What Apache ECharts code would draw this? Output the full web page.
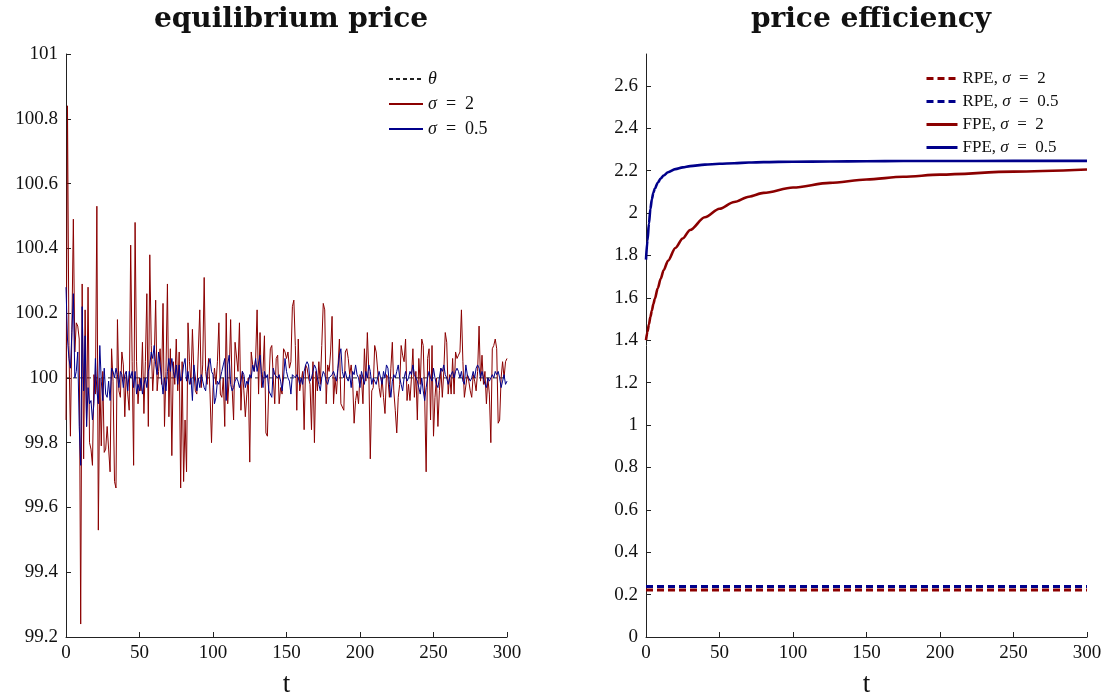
<!DOCTYPE html>
<html>
<head>
<meta charset="utf-8">
<script src="https://cdn.jsdelivr.net/npm/echarts@6/dist/echarts.min.js"></script>
<style>
  html, body { margin: 0; padding: 0; background: #fff; }
  #chart { width: 1112px; height: 696px; }
</style>
</head>
<body>
<div id="chart"></div>
<script>
// left panel: equilibrium price, one value per period t = 0..300
const theta = 100
const priceSigma2 = [
  99.87, 100.84, 100.10, 99.82, 100.15, 100.49, 100.08, 100.17, 100.16, 100.12,
  99.24, 100.29, 99.75, 100.21, 99.85, 100.28, 99.80, 99.78, 99.73, 100.01,
  99.95, 100.53, 99.53, 100.00, 99.79, 100.02, 99.77, 99.78, 99.85, 99.85,
  99.71, 100.09, 99.99, 99.68, 99.66, 100.18, 99.96, 99.94, 100.08, 100.04,
  99.88, 100.02, 99.95, 99.90, 100.41, 100.05, 99.73, 100.48, 100.05, 99.92,
  100.00, 99.96, 100.11, 99.89, 100.05, 100.26, 99.85, 100.38, 100.10, 99.96,
  100.05, 100.24, 99.96, 100.02, 100.09, 99.98, 100.23, 99.85, 100.02, 100.29,
  99.88, 100.09, 99.76, 100.05, 99.98, 100.12, 99.96, 100.08, 99.66, 100.05,
  99.68, 99.87, 99.71, 100.17, 100.05, 99.98, 100.15, 100.02, 99.96, 99.95,
  100.08, 100.21, 99.97, 100.04, 100.31, 100.02, 99.98, 100.06, 99.95, 99.80,
  99.97, 100.03, 99.98, 100.05, 100.17, 99.95, 99.94, 100.00, 99.85, 100.20,
  99.92, 100.00, 100.18, 99.97, 99.87, 100.11, 100.11, 100.02, 100.17, 99.90,
  100.02, 99.96, 99.88, 99.95, 100.00, 99.74, 100.08, 100.04, 100.02, 100.06,
  100.21, 99.95, 100.14, 99.97, 100.02, 100.13, 99.83, 99.82, 99.98, 100.09,
  100.10, 100.00, 99.92, 100.06, 100.07, 99.92, 99.97, 99.95, 100.09, 100.08,
  100.06, 100.08, 100.03, 100.05, 100.22, 100.24, 100.10, 99.90, 100.12, 99.96,
  99.96, 100.02, 99.84, 100.04, 100.03, 100.00, 99.98, 99.84, 100.05, 99.80,
  100.02, 99.96, 100.05, 99.98, 100.10, 100.23, 100.21, 99.92, 100.04, 100.02,
  100.08, 100.19, 99.92, 100.00, 99.95, 100.03, 100.12, 99.92, 99.92, 99.90,
  100.08, 100.09, 100.06, 100.01, 100.04, 99.99, 99.86, 99.93, 99.96, 99.92,
  100.01, 100.00, 99.92, 100.09, 99.99, 100.14, 100.02, 99.75, 99.96, 99.97,
  100.10, 100.08, 100.08, 99.97, 99.94, 100.00, 99.94, 99.89, 100.01, 100.00,
  99.94, 100.03, 100.11, 99.96, 99.90, 99.83, 99.94, 99.98, 100.10, 100.07,
  100.05, 100.12, 99.93, 99.98, 99.93, 100.00, 100.09, 99.94, 100.02, 99.87,
  100.06, 99.98, 100.12, 100.10, 99.94, 99.71, 100.06, 100.09, 99.87, 100.10,
  99.82, 99.94, 100.00, 99.85, 99.96, 100.03, 99.94, 100.02, 100.14, 100.11,
  99.95, 100.01, 99.95, 100.06, 99.95, 100.08, 100.06, 100.07, 100.08, 100.21,
  100.05, 99.94, 99.94, 100.01, 99.99, 99.96, 99.94, 100.01, 99.99, 99.96,
  100.02, 100.16, 99.99, 100.07, 99.98, 100.02, 99.92, 100.00, 99.95, 99.80,
  100.09, 100.10, 100.12, 100.09, 99.86, 99.87, 100.00, 100.05, 100.00, 100.05,
  100.06
]
const priceSigma05 = [
  100.28, 100.12, 100.06, 100.03, 100.14, 100.26, 100.00, 100.02, 100.08, 99.85,
  99.73, 100.22, 99.96, 100.13, 99.85, 99.97, 99.92, 99.93, 99.87, 99.92,
  100.06, 99.96, 99.92, 100.10, 99.99, 99.93, 100.03, 99.95, 99.94, 99.99,
  99.93, 100.03, 100.02, 100.00, 100.03, 100.01, 99.97, 100.02, 100.01, 99.97,
  100.01, 100.02, 99.96, 100.02, 100.00, 100.02, 99.97, 100.02, 99.95, 99.98,
  99.96, 100.00, 99.95, 99.98, 100.00, 99.97, 100.02, 100.04, 100.08, 100.06,
  100.10, 100.04, 100.01, 100.08, 100.04, 100.00, 99.95, 100.00, 99.96, 100.02,
  100.06, 100.02, 100.06, 100.02, 100.00, 100.04, 99.98, 100.04, 99.99, 100.00,
  100.04, 100.06, 99.99, 100.02, 99.98, 100.00, 99.93, 100.04, 100.00, 99.96,
  100.00, 99.97, 100.01, 99.99, 99.97, 99.96, 100.02, 100.04, 100.06, 100.02,
  100.01, 99.92, 99.94, 99.99, 99.98, 100.00, 100.02, 100.04, 100.06, 99.93,
  100.04, 100.07, 99.98, 99.96, 99.97, 99.99, 100.00, 99.99, 99.97, 99.99,
  100.02, 100.01, 99.97, 99.99, 99.98, 100.01, 100.00, 100.04, 100.02, 100.06,
  100.02, 100.02, 100.07, 100.01, 99.97, 100.02, 100.00, 100.01, 99.96, 99.96,
  99.94, 100.03, 100.01, 100.01, 100.00, 100.01, 99.99, 99.96, 100.00, 100.06,
  100.02, 100.00, 99.99, 99.95, 100.01, 100.01, 100.00, 100.01, 100.00, 99.98,
  100.00, 99.98, 100.02, 100.04, 100.05, 100.04, 99.99, 100.00, 100.02, 100.04,
  100.03, 100.00, 99.98, 99.96, 100.00, 100.02, 100.01, 99.99, 99.98, 100.00,
  100.00, 100.01, 100.02, 100.02, 99.99, 100.03, 100.07, 100.09, 100.02, 100.00,
  100.02, 100.00, 99.99, 100.01, 99.97, 100.02, 100.01, 100.04, 100.01, 100.00,
  99.97, 100.02, 100.00, 99.98, 100.02, 100.00, 100.04, 100.02, 99.98, 100.00,
  99.99, 99.98, 100.00, 100.02, 100.00, 99.98, 100.02, 100.00, 100.04, 100.03,
  99.98, 99.94, 99.99, 100.01, 100.00, 100.02, 100.04, 100.00, 99.98, 99.96,
  100.00, 100.02, 99.99, 100.00, 100.02, 100.01, 100.04, 100.01, 100.01, 99.99,
  99.97, 99.95, 100.00, 99.96, 99.93, 99.97, 100.00, 100.02, 100.00, 99.99,
  100.03, 100.00, 99.98, 99.97, 100.00, 100.03, 100.02, 100.04, 100.01, 100.00,
  99.98, 100.00, 100.01, 100.02, 100.00, 100.02, 100.03, 100.02, 100.00, 100.02,
  99.99, 99.98, 100.04, 100.01, 100.00, 99.99, 100.00, 100.02, 100.00, 100.03,
  100.04, 100.03, 100.00, 100.02, 100.00, 99.98, 99.97, 100.00, 99.99, 100.00,
  100.01, 100.00, 100.02, 100.01, 100.02, 100.00, 99.97, 99.99, 100.01, 99.98,
  99.99
]

// right panel: price efficiency
const rpeT = [0, 300]
const rpeSigma2 = [0.222, 0.222]
const rpeSigma05 = [0.238, 0.238]
const fpeT = [0, 1, 2, 3, 4, 5, 6, 8, 10, 12, 15, 20, 25, 30, 40, 50, 60, 70, 80, 100, 125, 150, 175, 200, 250, 300]
const fpeSigma2 = [1.40, 1.44, 1.475, 1.51, 1.54, 1.57, 1.595, 1.645, 1.69, 1.73, 1.775, 1.835, 1.88, 1.92, 1.98, 2.02, 2.052, 2.077, 2.095, 2.12, 2.142, 2.158, 2.171, 2.181, 2.195, 2.205]
const fpeSigma05 = [1.78, 1.87, 1.95, 2.02, 2.065, 2.095, 2.115, 2.143, 2.163, 2.177, 2.192, 2.207, 2.215, 2.221, 2.228, 2.232, 2.235, 2.238, 2.240, 2.242, 2.243, 2.244, 2.245, 2.245, 2.246, 2.246]

const periods = priceSigma2.map((_, i) => i)

const RED = '#8b0000'
const BLUE = '#00008b'
const SERIF = "'Liberation Serif', 'DejaVu Serif', serif"
const TITLE_FONT = "'DejaVu Serif', serif"

// math-style spacing around "=" like the LaTeX legend
const legendLabels = {
  'θ': '{i|θ}',
  'σ = 2': '{i|σ}\u2002=\u20022',
  'σ = 0.5': '{i|σ}\u2002=\u20020.5',
  'RPE, σ = 2': 'RPE, {i|σ}\u2002=\u20022',
  'RPE, σ = 0.5': 'RPE, {i|σ}\u2002=\u20020.5',
  'FPE, σ = 2': 'FPE, {i|σ}\u2002=\u20022',
  'FPE, σ = 0.5': 'FPE, {i|σ}\u2002=\u20020.5'
}

function pairs(xs, ys) {
  return xs.map((x, i) => [x, ys[i]])
}

function axisBase() {
  return {
    axisLine: { show: true, lineStyle: { color: '#222', width: 1 } },
    axisTick: { show: true, inside: true, length: 5, lineStyle: { color: '#222' } },
    axisLabel: { color: '#111', fontFamily: SERIF, fontSize: 19 },
    splitLine: { show: false }
  }
}

function xAxis(gridIndex) {
  return Object.assign(axisBase(), {
    type: 'value',
    gridIndex,
    min: 0,
    max: 300,
    interval: 50,
    name: 't',
    nameLocation: 'middle',
    nameGap: 34,
    nameTextStyle: { color: '#111', fontFamily: SERIF, fontSize: 27 },
    axisLabel: { color: '#111', fontFamily: SERIF, fontSize: 19, margin: 7 }
  })
}

function legendText(size) {
  return {
    color: '#111',
    fontFamily: SERIF,
    fontSize: size,
    rich: { i: { fontStyle: 'italic', fontFamily: SERIF, fontSize: size, color: '#111' } }
  }
}

const option = {
  backgroundColor: '#fff',
  animation: false,
  title: [
    {
      text: 'equilibrium price',
      left: 286, top: 1, textAlign: 'center',
      textStyle: { fontFamily: TITLE_FONT, fontWeight: 'bold', fontSize: 28, color: '#111' }
    },
    {
      text: 'price efficiency',
      left: 866, top: 1, textAlign: 'center',
      textStyle: { fontFamily: TITLE_FONT, fontWeight: 'bold', fontSize: 28, color: '#111' }
    }
  ],
  legend: [
    {
      data: ['θ', 'σ = 2', 'σ = 0.5'],
      orient: 'vertical',
      left: 383, top: 65,
      itemWidth: 34, itemHeight: 10, itemGap: 7,
      itemStyle: { opacity: 0 },
      formatter: name => legendLabels[name],
      textStyle: legendText(18)
    },
    {
      data: ['RPE, σ = 2', 'RPE, σ = 0.5', 'FPE, σ = 2', 'FPE, σ = 0.5'],
      orient: 'vertical',
      left: 920, top: 65,
      itemWidth: 31, itemHeight: 10, itemGap: 6,
      itemStyle: { opacity: 0 },
      lineStyle: { width: 3 },
      formatter: name => legendLabels[name],
      textStyle: legendText(17)
    }
  ],
  grid: [
    { left: 66, top: 54, width: 441, height: 583, outerBoundsMode: 'none' },
    { left: 646, top: 54, width: 441, height: 583, outerBoundsMode: 'none' }
  ],
  xAxis: [xAxis(0), xAxis(1)],
  yAxis: [
    Object.assign(axisBase(), {
      type: 'value', gridIndex: 0, min: 99.2, max: 101, interval: 0.2
    }),
    Object.assign(axisBase(), {
      type: 'value', gridIndex: 1, min: 0, max: 2.75, interval: 0.2,
      axisLabel: { color: '#111', fontFamily: SERIF, fontSize: 19, showMaxLabel: false }
    })
  ],
  series: [
    {
      name: 'θ', type: 'line', xAxisIndex: 0, yAxisIndex: 0,
      data: periods.map(t => [t, theta]),
      symbol: 'none',
      lineStyle: { color: '#222', width: 1, type: [4, 3] },
      itemStyle: { color: '#222' }
    },
    {
      name: 'σ = 2', type: 'line', xAxisIndex: 0, yAxisIndex: 0,
      data: pairs(periods, priceSigma2),
      symbol: 'none',
      lineStyle: { color: RED, width: 1 },
      itemStyle: { color: RED }
    },
    {
      name: 'σ = 0.5', type: 'line', xAxisIndex: 0, yAxisIndex: 0,
      data: pairs(periods, priceSigma05),
      symbol: 'none',
      lineStyle: { color: BLUE, width: 1 },
      itemStyle: { color: BLUE }
    },
    {
      name: 'RPE, σ = 2', type: 'line', xAxisIndex: 1, yAxisIndex: 1,
      data: pairs(rpeT, rpeSigma2),
      symbol: 'none',
      lineStyle: { color: RED, width: 3, type: [7, 4] },
      itemStyle: { color: RED }
    },
    {
      name: 'RPE, σ = 0.5', type: 'line', xAxisIndex: 1, yAxisIndex: 1,
      data: pairs(rpeT, rpeSigma05),
      symbol: 'none',
      lineStyle: { color: BLUE, width: 3, type: [7, 4] },
      itemStyle: { color: BLUE }
    },
    {
      name: 'FPE, σ = 2', type: 'line', xAxisIndex: 1, yAxisIndex: 1,
      data: pairs(fpeT, fpeSigma2),
      symbol: 'none', smooth: 0.3, smoothMonotone: 'x',
      lineStyle: { color: RED, width: 2.6 },
      itemStyle: { color: RED }
    },
    {
      name: 'FPE, σ = 0.5', type: 'line', xAxisIndex: 1, yAxisIndex: 1,
      data: pairs(fpeT, fpeSigma05),
      symbol: 'none', smooth: 0.3, smoothMonotone: 'x',
      lineStyle: { color: BLUE, width: 2.6 },
      itemStyle: { color: BLUE }
    }
  ]
}

const chart = echarts.init(document.getElementById('chart'))
chart.setOption(option)
</script>
</body>
</html>
